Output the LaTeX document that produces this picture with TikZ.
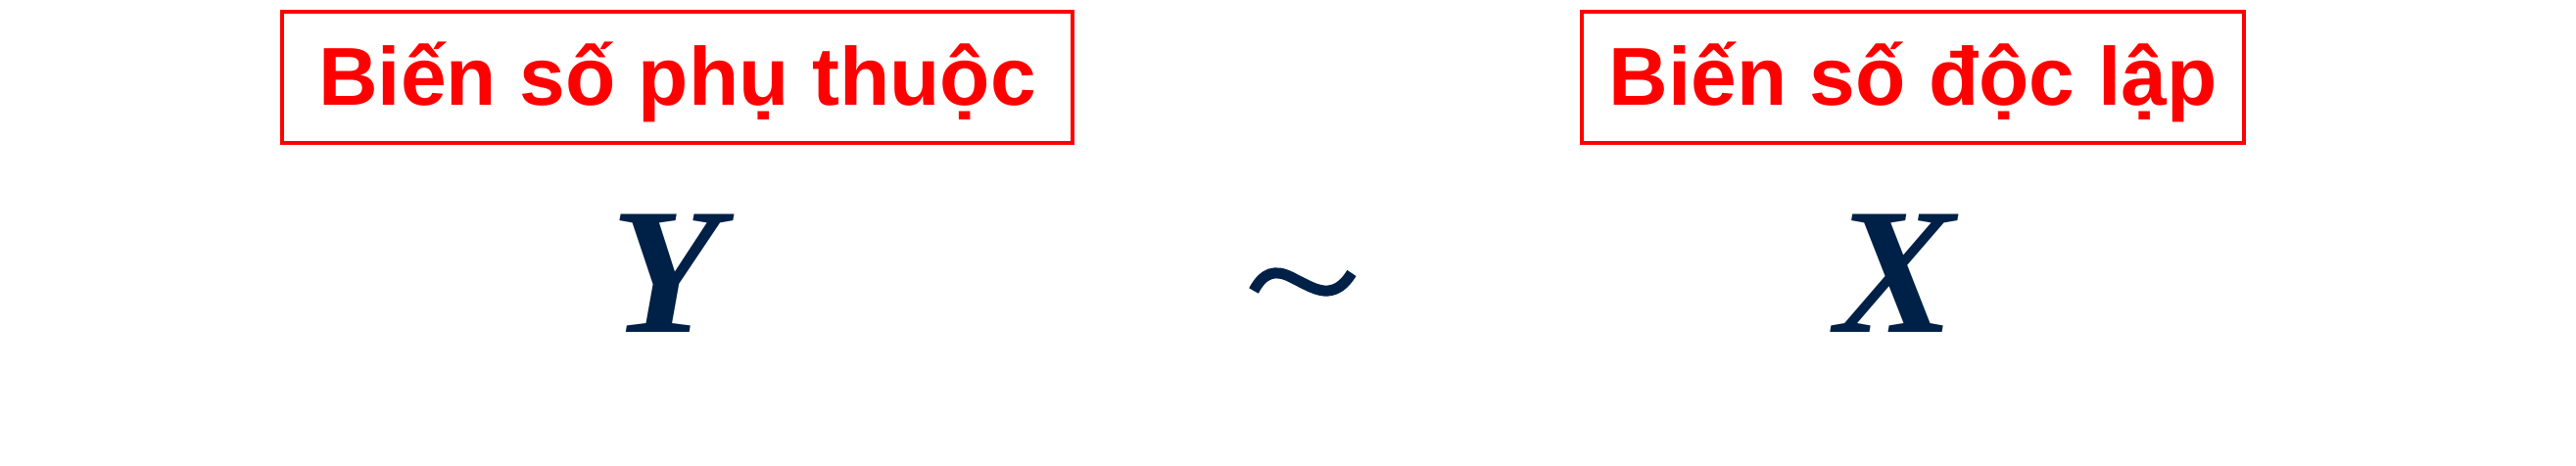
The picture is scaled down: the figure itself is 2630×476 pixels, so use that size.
\documentclass[tikz,border=0pt]{standalone}
\usepackage{fontspec}
\setmainfont{Liberation Sans}
\newfontfamily\tnr{Liberation Serif}
\definecolor{navy}{RGB}{0,33,71}
\tikzset{
  labelbox/.style={draw=red, line width=3.5pt, inner sep=0pt, text=red,
    minimum height=134pt, text height=60pt, text depth=2pt,
    font=\fontsize{84}{90}\selectfont\bfseries},
  varname/.style={inner sep=0pt, anchor=base, text=navy,
    font=\tnr\fontsize{184}{190}\selectfont\bfseries\itshape}
}
\begin{document}
\begin{tikzpicture}[x=1pt,y=-1pt]
\useasboundingbox (0,0) rectangle (2630,476);
\node[labelbox, minimum width=807pt] (dep) at (691.5,79) {Biến số phụ thuộc};
\node[labelbox, minimum width=676pt] (indep) at (1953,79) {Biến số độc lập};
\node[varname] (Y) at (680,339) {Y};
\node[varname] (X) at (1935,339) {X};
\coordinate (t0) at (1280,297);
\coordinate (t1) at (1380,279);
\draw[navy, line width=11pt, line cap=butt] (t0) .. controls (1290,278) and (1302,275) .. (1318,283) .. controls (1334,291) and (1345,298) .. (1356,297) .. controls (1366,296) and (1373,290) .. (t1);
\end{tikzpicture}
\end{document}
